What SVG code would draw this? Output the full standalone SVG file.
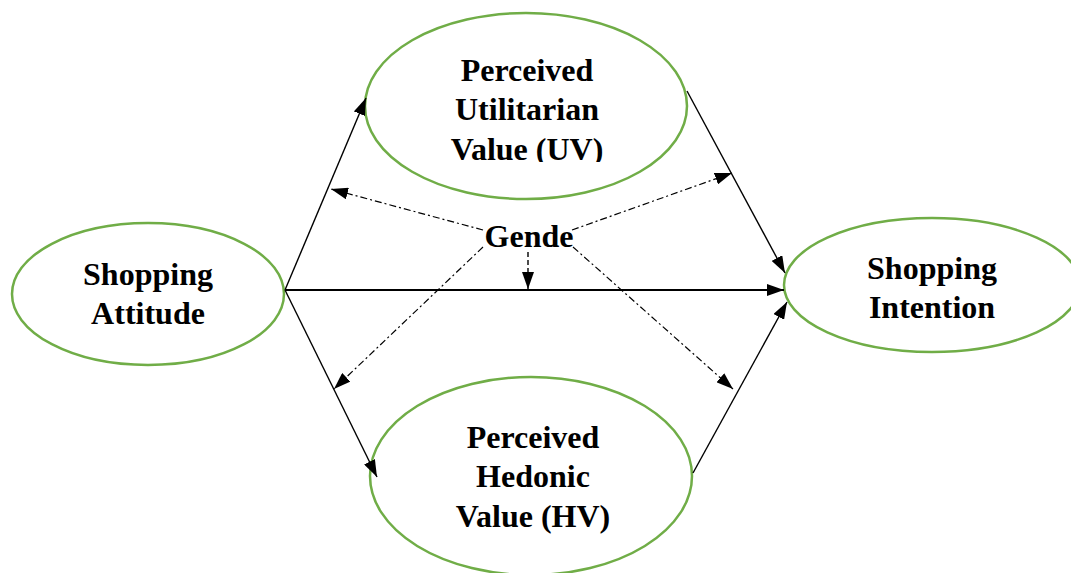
<svg xmlns="http://www.w3.org/2000/svg" width="1071" height="573" viewBox="0 0 1071 573">
<style>
.node{fill:#fff;stroke:#70AD47;stroke-width:2.5}
.t{font-family:"Liberation Serif","Times New Roman",serif;font-weight:bold;font-size:32px;text-anchor:middle;fill:#000}
.e{stroke:#000;stroke-width:1.4;fill:none}
.thick{stroke-width:2}
.dd{stroke:#000;stroke-width:1.2;fill:none;stroke-dasharray:7 3 2 3}
.ds{stroke:#000;stroke-width:1.4;fill:none;stroke-dasharray:5 3}
</style>
<defs>
<marker id="ah" viewBox="0 0 17 12" refX="17" refY="6" markerWidth="17" markerHeight="12" markerUnits="userSpaceOnUse" orient="auto">
<path d="M0,0 L17,6 L0,12 Z" fill="#000"/>
</marker>
<clipPath id="uvclip"><rect x="0" y="0" width="1071" height="162"/></clipPath>
</defs>
<rect width="1071" height="573" fill="#fff"/>
<g id="uv">
<ellipse class="node" cx="526" cy="106" rx="161" ry="93"/>
<g clip-path="url(#uvclip)">
<text class="t" x="527" y="81">Perceived</text>
<text class="t" x="527" y="120">Utilitarian</text>
<text class="t" x="527" y="160">Value (UV)</text>
</g>
</g>
<g id="hv">
<ellipse class="node" cx="531" cy="476" rx="161" ry="99"/>
<text class="t" x="533" y="448">Perceived</text>
<text class="t" x="533" y="487">Hedonic</text>
<text class="t" x="533" y="527">Value (HV)</text>
</g>
<g id="sa">
<ellipse class="node" cx="148" cy="294" rx="136" ry="71"/>
<text class="t" x="148" y="285">Shopping</text>
<text class="t" x="148" y="324">Attitude</text>
</g>
<g id="si">
<ellipse class="node" cx="932" cy="285" rx="148" ry="67"/>
<text class="t" x="932" y="279">Shopping</text>
<text class="t" x="932" y="318">Intention</text>
</g>
<g id="gender">
<text class="t" x="529" y="247">Gende</text>
</g>
<g id="connectors">
<line class="e" x1="285" y1="290" x2="366" y2="98" marker-end="url(#ah)"/>
<line class="e" x1="285" y1="290" x2="377" y2="477" marker-end="url(#ah)"/>
<line class="e thick" x1="285" y1="290" x2="784" y2="290" marker-end="url(#ah)"/>
<line class="e" x1="687" y1="91" x2="785" y2="273" marker-end="url(#ah)"/>
<line class="e" x1="693" y1="473" x2="787" y2="302" marker-end="url(#ah)"/>
<line class="ds" x1="528" y1="252" x2="528" y2="289" marker-end="url(#ah)"/>
<line class="dd" x1="483" y1="230" x2="331" y2="189" marker-end="url(#ah)"/>
<line class="dd" x1="572" y1="230" x2="732" y2="173" marker-end="url(#ah)"/>
<line class="dd" x1="483" y1="247" x2="334" y2="389" marker-end="url(#ah)"/>
<line class="dd" x1="573" y1="247" x2="733" y2="389" marker-end="url(#ah)"/>
</g>
</svg>
